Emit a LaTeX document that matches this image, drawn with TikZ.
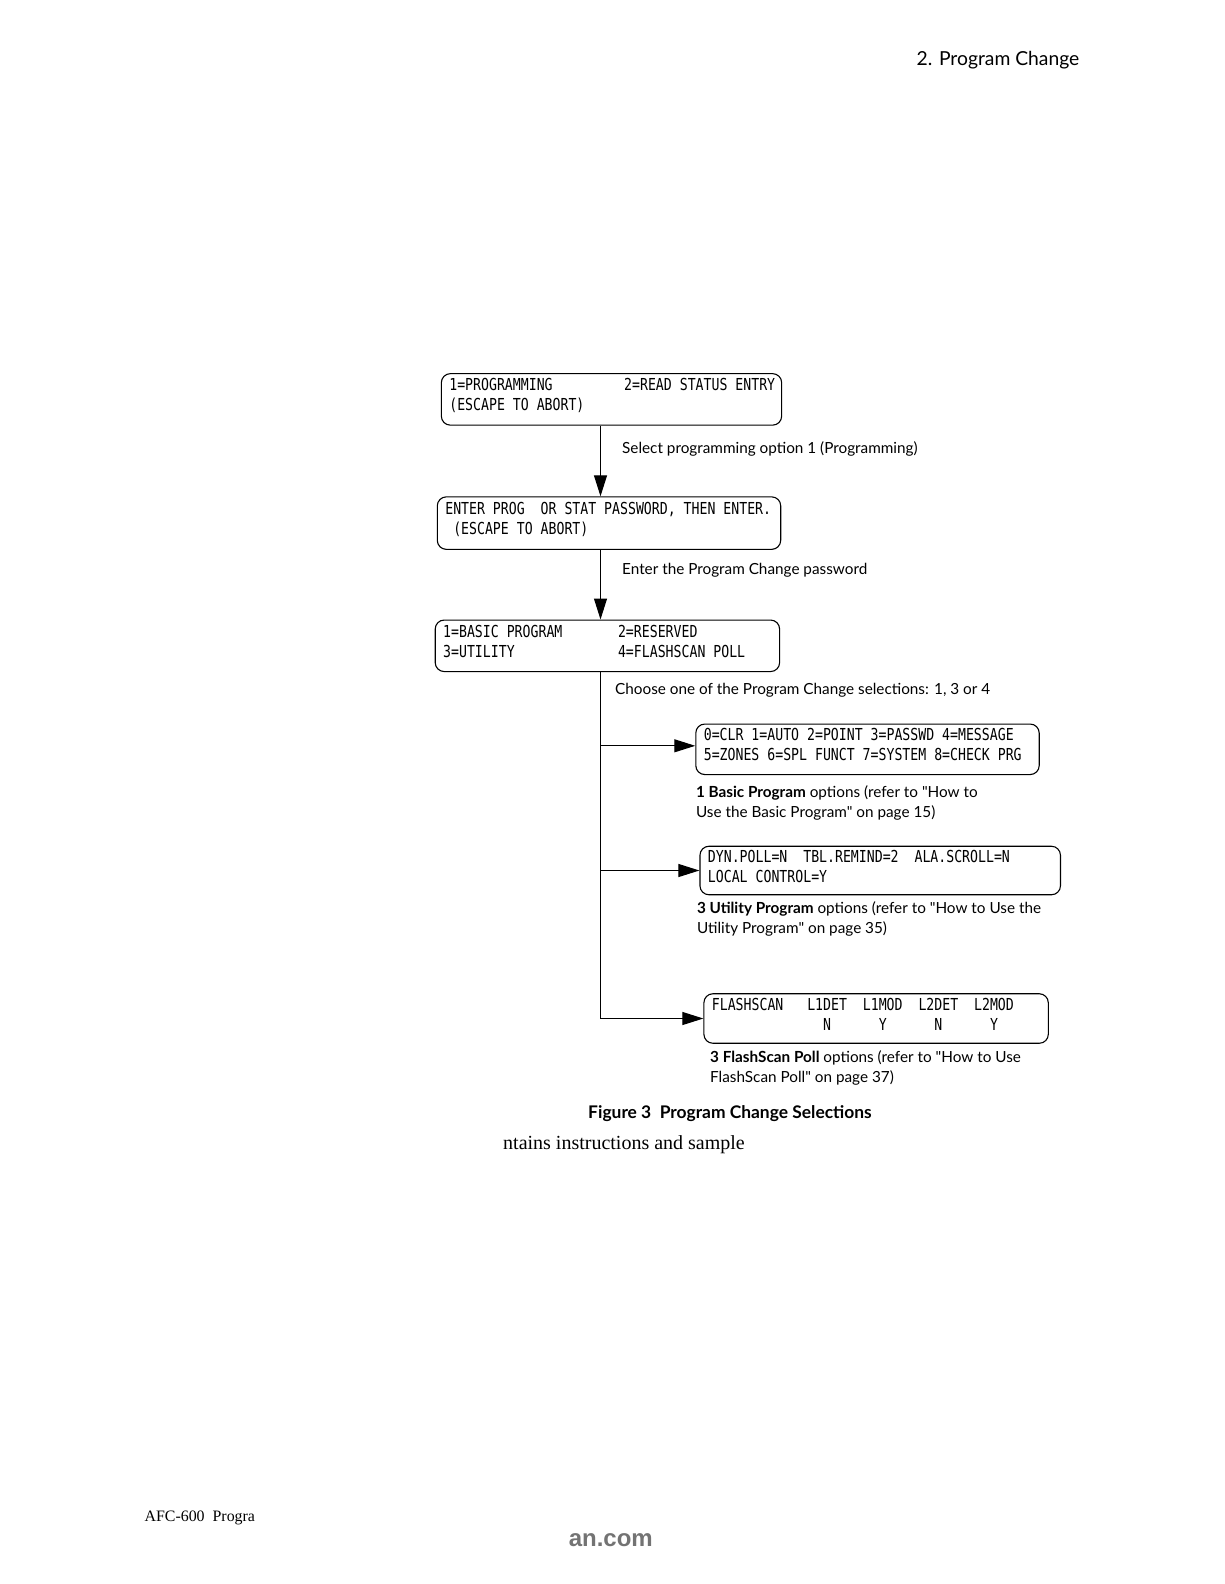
\documentclass[tikz,border=0pt]{standalone}
\usepackage{fontspec}
\newfontfamily\latofont{Lato}
\newfontfamily\boxfont[FakeStretch=0.8]{DejaVu Sans Mono}
\newfontfamily\seriffont{Liberation Serif}
\newfontfamily\arialfont{Liberation Sans}
\newcommand\msp[1]{\hspace*{#1\fontcharwd\font`0}}
\newcommand\boxsetup{\boxfont\fontsize{16.5}{20}\selectfont\hyphenpenalty 10000\relax}
\usetikzlibrary{arrows.meta,calc}
\begin{document}
\begin{tikzpicture}[x=1pt,y=-1pt,
  scr/.style={draw, line width=1.1pt, rounded corners=9pt, font=\boxsetup, align=left, inner xsep=8pt, text height=12pt, text depth=29pt, anchor=center},
  con/.style={line width=1.1pt},
  arr/.style={con, -{Triangle[length=21pt,width=13pt]}},
  lbl/.style={anchor=west, font=\latofont\fontsize{15.3}{20}\selectfont, inner sep=0pt, align=left},
  plain/.style={inner sep=0pt},
]
\useasboundingbox (0,0) rectangle (1224,1584);
% screens
\node[scr, text width=324.3pt, minimum height=51.5pt] (b1) at (611.5,399.4) {\mbox{1=PROGRAMMING\msp{9}2=READ\msp{1}STATUS\msp{1}ENTRY}\\(ESCAPE\msp{1}TO\msp{1}ABORT)};
\node[scr, text width=327.4pt, minimum height=52.5pt] (b2) at (609,523.1) {ENTER\msp{1}PROG\msp{2}OR\msp{1}STAT\msp{1}PASSWORD,\msp{1}THEN\msp{1}ENTER.\\\msp{1}(ESCAPE\msp{1}TO\msp{1}ABORT)};
\node[scr, text width=328.4pt, minimum height=51.5pt] (b3) at (607.4,645.8) {1=BASIC\msp{1}PROGRAM\msp{7}2=RESERVED\\3=UTILITY\msp{13}4=FLASHSCAN\msp{1}POLL};
\node[scr, text width=327.4pt, minimum height=50.5pt] (b4) at (867.5,749.3) {0=CLR\msp{1}1=AUTO\msp{1}2=POINT\msp{1}3=PASSWD\msp{1}4=MESSAGE\\5=ZONES\msp{1}6=SPL\msp{1}FUNCT\msp{1}7=SYSTEM\msp{1}8=CHECK\msp{1}PRG};
\node[scr, text width=344.5pt, minimum height=48.5pt] (b5) at (880.2,870.5) {DYN.POLL=N\msp{2}TBL.REMIND=2\msp{2}ALA.SCROLL=N\\LOCAL\msp{1}CONTROL=Y};
\node[scr, text width=328.4pt, minimum height=49.5pt] (b6) at (876.1,1018.5) {FLASHSCAN\msp{3}L1DET\msp{2}L1MOD\msp{2}L2DET\msp{2}L2MOD\\\msp{14}N\msp{6}Y\msp{6}N\msp{6}Y};
% connectors
\coordinate (tr) at (600.5,0);
\draw[arr] (b1.south -| tr) -- (b2.north -| tr);
\draw[arr] (b2.south -| tr) -- (b3.north -| tr);
\draw[arr] (b3.south -| tr) |- (b6.west);
\draw[arr] ($(tr |- b4.west)+(0,-3.5)$) -- ($(b4.west)+(0,-3.5)$);
\draw[arr] (tr |- b5.west) -- (b5.west);
% labels
\node[lbl] (l1) at (622,449.4) {Select programming option 1 (Programming)};
\node[lbl] (l2) at (622,570.6) {Enter the Program Change password};
\node[lbl] (l3) at (615,689.8) {Choose one of the Program Change selections: 1, 3 or 4};
\node[lbl] (c4) at (695.8,803) {\textbf{1 Basic Program} options (refer to "How to\\Use the Basic Program" on page 15)};
\node[lbl] (c5) at (696.8,919) {\textbf{3 Utility Program} options (refer to "How to Use the\\Utility Program" on page 35)};
\node[lbl] (c6) at (710,1067.5) {\textbf{3 FlashScan Poll} options (refer to "How to Use\\FlashScan Poll" on page 37)};
\node[plain, font=\latofont\bfseries\fontsize{17.4}{20}\selectfont] (fig) at (730,1114) {Figure 3~~Program Change Selections};
\node[plain, anchor=west, font=\seriffont\fontsize{20}{22}\selectfont] (body) at (503,1145) {ntains instructions and sample};
\node[plain, anchor=east, font=\latofont\fontsize{19.3}{22}\selectfont] (head) at (1079.6,60.6) {2. Program Change};
\node[plain, anchor=west, font=\seriffont\fontsize{15.9}{18}\selectfont] (foot) at (144.4,1518) {AFC-600~~Progra};
\node[plain, anchor=west, font=\arialfont\bfseries\fontsize{24}{26}\selectfont, text=black!55] (wm) at (568.6,1540) {an.com};
\end{tikzpicture}
\end{document}
